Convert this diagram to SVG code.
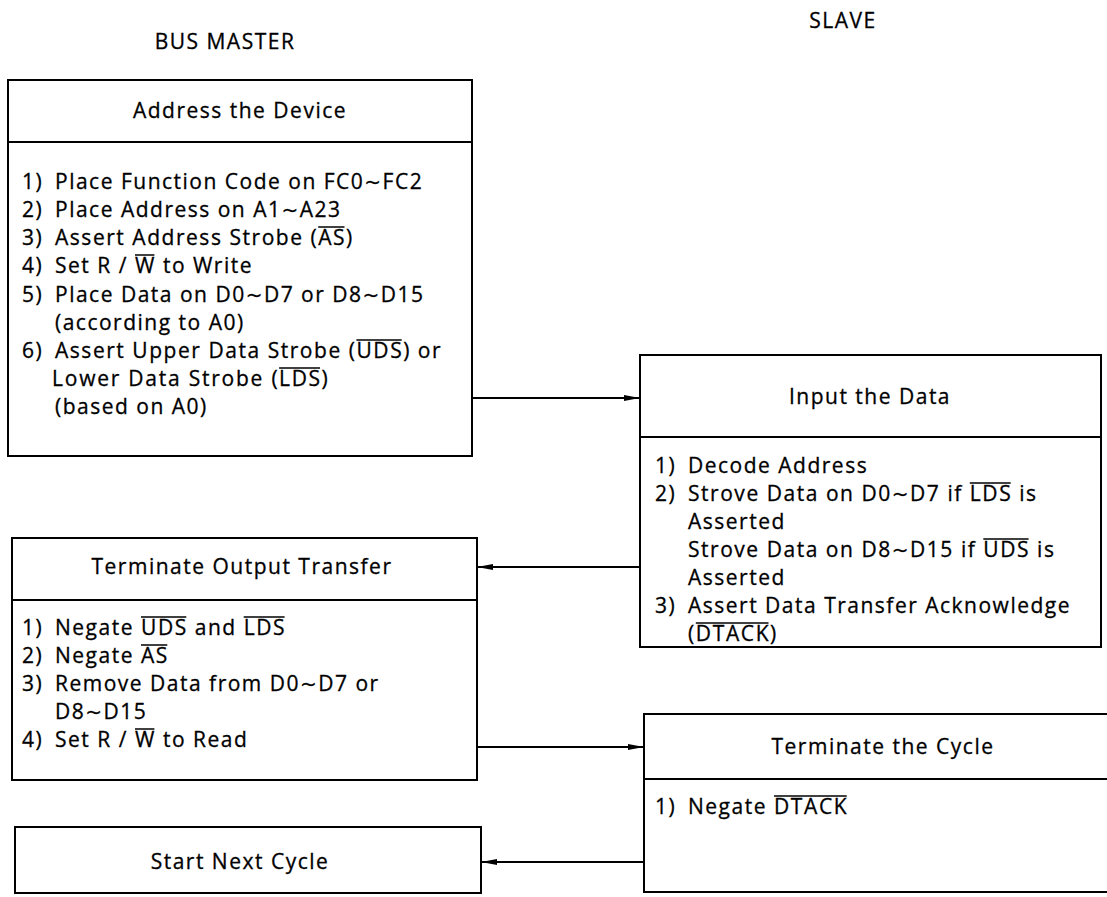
<svg xmlns="http://www.w3.org/2000/svg" width="1107" height="897" viewBox="0 0 1107 897">
<defs>
<style>
.box{fill:none;stroke:#000;stroke-width:2}
.div{stroke:#000;stroke-width:2}
.t{font-family:"Open Sans","Noto Sans",sans-serif;font-size:21px;fill:#000;stroke:#000;stroke-width:0.3;letter-spacing:1.5px}
.tl{font-family:"DejaVu Sans",sans-serif;font-size:20px}
.h{text-anchor:middle}
.ov{stroke:#000;stroke-width:1.5}
.con{stroke:#000;stroke-width:2;fill:none;marker-end:url(#ah)}
</style>
<marker id="ah" viewBox="0 0 16 8" refX="16" refY="4" markerWidth="16" markerHeight="8" markerUnits="userSpaceOnUse" orient="auto">
<path d="M0,1 L16,4 L0,7 Z" fill="#000"/>
</marker>
</defs>
<rect width="1107" height="897" fill="#fff"/>
<text class="t h" x="225" y="49">BUS MASTER</text>
<text class="t h" x="843" y="28">SLAVE</text>

<g id="address">
<rect class="box" x="8" y="80" width="464" height="376"/>
<line class="div" x1="8" y1="142" x2="472" y2="142"/>
<text class="t h" x="240" y="118">Address the Device</text>
<text class="t" x="22" y="189">1)</text><text class="t" x="55" y="189">Place Function Code on FC0<tspan class="tl">~</tspan>FC2</text>
<text class="t" x="22" y="217">2)</text><text class="t" x="55" y="217">Place Address on A1<tspan class="tl">~</tspan>A23</text>
<text class="t" x="22" y="245">3)</text><text class="t" x="55" y="245" textLength="263.2">Assert Address Strobe (</text><text class="t" x="318.2" y="245" textLength="27.8">AS</text><text class="t" x="346" y="245">)</text>
<line class="ov" x1="318.2" y1="227" x2="344.5" y2="227"/>
<text class="t" x="22" y="273">4)</text><text class="t" x="55" y="273" textLength="73">Set R /</text><text class="t" x="135" y="273" textLength="20.9">W</text><text class="t" x="162.9" y="273">to Write</text>
<line class="ov" x1="135" y1="255" x2="154.4" y2="255"/>
<text class="t" x="22" y="302">5)</text><text class="t" x="55" y="302">Place Data on D0<tspan class="tl">~</tspan>D7 or D8<tspan class="tl">~</tspan>D15</text>
<text class="t" x="55" y="330">(according to A0)</text>
<text class="t" x="22" y="358">6)</text><text class="t" x="55" y="358" textLength="301.4">Assert Upper Data Strobe (</text><text class="t" x="356.4" y="358" textLength="46.8">UDS</text><text class="t" x="403.2" y="358">) or</text>
<line class="ov" x1="356.4" y1="340" x2="401.7" y2="340"/>
<text class="t" x="52" y="386" textLength="227.1">Lower Data Strobe (</text><text class="t" x="279.1" y="386" textLength="42.4">LDS</text><text class="t" x="321.5" y="386">)</text>
<line class="ov" x1="279.1" y1="368" x2="320" y2="368"/>
<text class="t" x="55" y="414">(based on A0)</text>
</g>

<g id="input">
<rect class="box" x="640" y="355" width="461" height="292"/>
<line class="div" x1="640" y1="437" x2="1101" y2="437"/>
<text class="t h" x="870" y="404">Input the Data</text>
<text class="t" x="655" y="473">1)</text><text class="t" x="688" y="473">Decode Address</text>
<text class="t" x="655" y="501">2)</text><text class="t" x="688" y="501" textLength="274.8">Strove Data on D0<tspan class="tl">~</tspan>D7 if</text><text class="t" x="969.8" y="501" textLength="42.4">LDS</text><text class="t" x="1019.2" y="501">is</text>
<line class="ov" x1="969.8" y1="483" x2="1010.7" y2="483"/>
<text class="t" x="688" y="529">Asserted</text>
<text class="t" x="688" y="557" textLength="288.3">Strove Data on D8<tspan class="tl">~</tspan>D15 if</text><text class="t" x="983.3" y="557" textLength="46.8">UDS</text><text class="t" x="1037.1" y="557">is</text>
<line class="ov" x1="983.3" y1="539" x2="1028.6" y2="539"/>
<text class="t" x="688" y="585">Asserted</text>
<text class="t" x="655" y="613">3)</text><text class="t" x="688" y="613">Assert Data Transfer Acknowledge</text>
<text class="t" x="688" y="641">(</text><text class="t" x="695.8" y="641" textLength="74.2">DTACK</text><text class="t" x="770" y="641">)</text>
<line class="ov" x1="695.8" y1="623" x2="768.5" y2="623"/>
</g>

<g id="terminate-output">
<rect class="box" x="12" y="538" width="465" height="242"/>
<line class="div" x1="12" y1="600" x2="477" y2="600"/>
<text class="t h" x="242" y="574">Terminate Output Transfer</text>
<text class="t" x="22" y="635">1)</text><text class="t" x="55" y="635" textLength="79">Negate</text><text class="t" x="141" y="635" textLength="46.8">UDS</text><text class="t" x="194.8" y="635" textLength="41.9">and</text><text class="t" x="243.7" y="635" textLength="42.4">LDS</text>
<line class="ov" x1="141" y1="617" x2="186.3" y2="617"/>
<line class="ov" x1="243.7" y1="617" x2="284.6" y2="617"/>
<text class="t" x="22" y="663">2)</text><text class="t" x="55" y="663" textLength="79">Negate</text><text class="t" x="141" y="663" textLength="27.8">AS</text>
<line class="ov" x1="141" y1="645" x2="167.3" y2="645"/>
<text class="t" x="22" y="691">3)</text><text class="t" x="55" y="691">Remove Data from D0<tspan class="tl">~</tspan>D7 or</text>
<text class="t" x="55" y="719">D8<tspan class="tl">~</tspan>D15</text>
<text class="t" x="22" y="747">4)</text><text class="t" x="55" y="747" textLength="73">Set R /</text><text class="t" x="135" y="747" textLength="20.9">W</text><text class="t" x="162.9" y="747">to Read</text>
<line class="ov" x1="135" y1="729" x2="154.4" y2="729"/>
</g>

<g id="terminate-cycle">
<rect class="box" x="644" y="714" width="470" height="178"/>
<line class="div" x1="644" y1="779" x2="1107" y2="779"/>
<text class="t h" x="883" y="754">Terminate the Cycle</text>
<text class="t" x="655" y="814">1)</text><text class="t" x="688" y="814" textLength="79">Negate</text><text class="t" x="774" y="814" textLength="74.2">DTACK</text>
<line class="ov" x1="774" y1="796" x2="846.7" y2="796"/>
</g>

<g id="start-next">
<rect class="box" x="15" y="827" width="466" height="66"/>
<text class="t h" x="240" y="869">Start Next Cycle</text>
</g>

<g id="connectors">
<line class="con" x1="472" y1="398" x2="640" y2="398"/>
<line class="con" x1="640" y1="567" x2="477" y2="567"/>
<line class="con" x1="477" y1="747" x2="644" y2="747"/>
<line class="con" x1="644" y1="862" x2="481" y2="862"/>
</g>
</svg>
